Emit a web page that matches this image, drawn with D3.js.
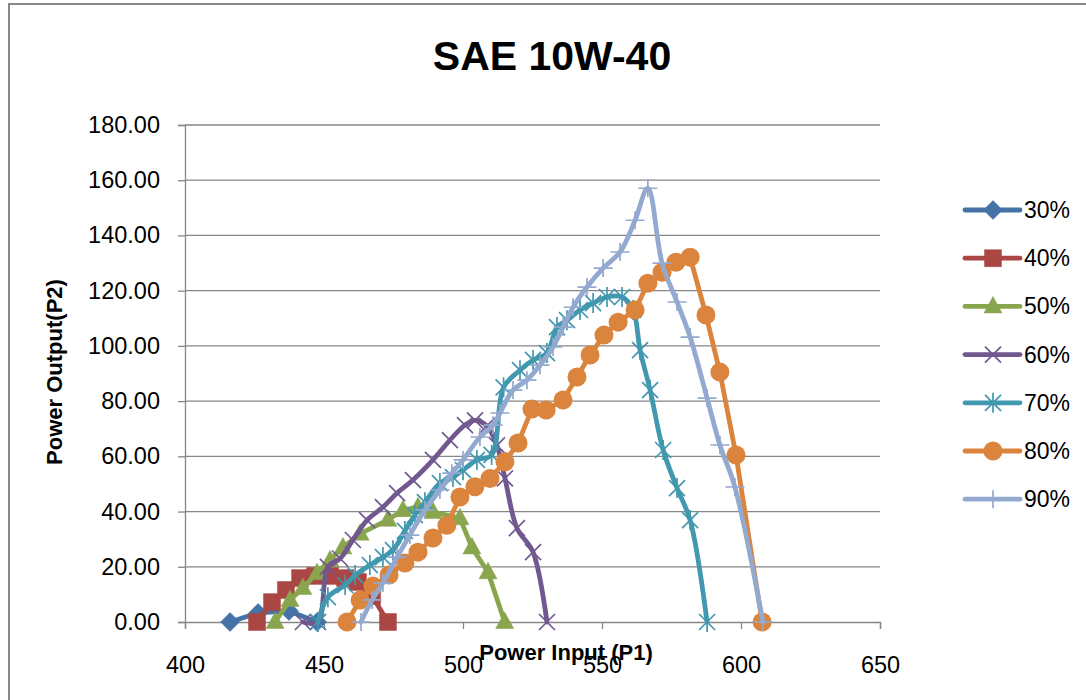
<!DOCTYPE html>
<html>
<head>
<meta charset="utf-8">
<script src="https://cdn.jsdelivr.net/npm/d3@7"></script>
<style>
  body { margin: 0; background: #fff; }
  text { font-family: "Liberation Sans", Arial, sans-serif; }
</style>
</head>
<body>
<div id="chart"></div>
<script>
// series values [Power Input P1, Power Output P2]
var s30 = [[416.2,0],[426.3,3.3],[437.4,4.0],[447.5,0]];
var s40 = [[425.9,0],[431.3,7.2],[436.3,11.6],[441.4,15.9],[446.8,16.7],[452.2,16.7],[457.6,15.9],[462.2,14.5],[467.3,9.4],[473,0]];
var s50 = [[432.4,0],[437.8,8],[442.4,12.3],[447.5,17.7],[452.2,22.4],[456.8,27],[463,32],[473,37],[478.4,40.5],[483.8,41.6],[489.2,39.8],[498.9,37.6],[503.2,27],[509,18],[515,0]];
var s60 = [[442.4,0],[447.8,0],[451.4,20],[455.8,23],[460.4,29.7],[465.5,36.9],[471.2,41.6],[476.3,46.7],[482,51.4],[489.2,58.7],[495.3,65.9],[500.7,71.3],[504.3,73],[508.6,71],[512.2,64],[515.1,52],[519.4,34],[525.2,25.3],[530.2,0]];
var s70 = [[447.8,0],[451.4,9],[457.6,13.4],[461.2,17],[466.5,20.6],[471.2,23.5],[474.8,26],[479.1,33],[482.7,38.7],[486.3,43.4],[491.7,50.3],[496.4,52.5],[500,55],[505,58.7],[510.3,60.5],[514.6,85],[520.5,91.2],[525.2,94.9],[530.2,97.4],[533.8,106.8],[537.4,109.3],[542.1,113],[546.8,115.5],[551.8,117.7],[557.2,117.7],[561.2,113],[563.7,98.5],[567.3,84],[572,62.3],[577,48.5],[581.7,36.9],[587.8,0]];
var s80 = [[458.3,0],[463,8],[467.6,13],[473.4,17],[479.1,21.4],[483.8,25.3],[489.2,30.4],[494.2,35],[498.9,45.3],[504.3,49],[509.7,52],[515.1,58],[519.8,64.8],[524.8,77.1],[529.9,76.8],[536,80.4],[541,88.7],[545.7,96.7],[550.7,103.9],[555.8,108.6],[561.9,113],[566.5,122.7],[571.6,126.7],[576.6,130.3],[581.7,132.1],[587.4,111.2],[592.4,90.5],[598.2,60.5],[607.6,0]];
var s90 = [[463.3,0],[467.3,8],[471.2,14.1],[476.3,23.5],[480.9,31.5],[486.3,40.6],[491.7,47.8],[496,53.9],[500,58.7],[506.1,67],[510.8,71.3],[513.3,75.7],[518,84],[523,87.6],[527.7,93],[532.4,99.6],[536,106.8],[539.6,114],[544.6,121.3],[550.4,128.2],[556.5,134],[561.9,145.5],[566.5,157.1],[571.6,130],[577,115.9],[581.7,103.2],[587.8,81.1],[592.4,64.1],[597.8,48.9],[607.9,0]];

var seriesNames = ["30%", "40%", "50%", "60%", "70%", "80%", "90%"];
var seriesData = [s30, s40, s50, s60, s70, s80, s90];
var seriesColors = ["#4572A7", "#AA4643", "#89A54E", "#71588F", "#4198AF", "#DB843D", "#93A9CF"];
var seriesMarkers = ["diamond", "square", "triangle", "x", "star", "circle", "plus"];
var seriesSmooth = [false, false, false, true, true, false, true];

var xTicks = [400, 450, 500, 550, 600, 650];
var yTicks = [0, 20, 40, 60, 80, 100, 120, 140, 160, 180];

// dimensions
var margin = {top: 125, right: 206, bottom: 78, left: 185},
    width = 1086 - margin.left - margin.right,
    height = 700 - margin.top - margin.bottom;

var root = d3.select("#chart")
  .append("svg")
    .attr("width", 1086)
    .attr("height", 700);

// outer chart border
root.append("rect")
  .attr("x", 9).attr("y", 4)
  .attr("width", 1100).attr("height", 720)
  .attr("fill", "none")
  .attr("stroke", "#868686")
  .attr("stroke-width", 2);

root.append("text")
  .attr("x", 552).attr("y", 70)
  .attr("text-anchor", "middle")
  .style("font-size", "41px")
  .style("font-weight", "bold")
  .text("SAE 10W-40");

var svg = root.append("g")
  .attr("transform", "translate(" + margin.left + "," + margin.top + ")");

var x = d3.scaleLinear().domain([400, 650]).range([0, width]);
var y = d3.scaleLinear().domain([0, 180]).range([height, 0]);

// gridlines
svg.append("g")
  .selectAll("line")
  .data(yTicks.slice(1))
  .enter().append("line")
    .attr("x1", 0).attr("x2", width)
    .attr("y1", function(d) { return y(d); })
    .attr("y2", function(d) { return y(d); })
    .attr("stroke", "#868686")
    .attr("stroke-width", 1.3);

var yAxis = svg.append("g")
  .call(d3.axisLeft(y).tickValues(yTicks).tickFormat(d3.format(".2f")).tickSize(7).tickPadding(18));
var xAxis = svg.append("g")
  .attr("transform", "translate(0," + height + ")")
  .call(d3.axisBottom(x).tickValues(xTicks).tickSize(7).tickPadding(27));

[yAxis, xAxis].forEach(function(a) {
  a.selectAll(".domain").attr("stroke", "#868686").attr("stroke-width", 1.3);
  a.selectAll(".tick line").attr("stroke", "#868686").attr("stroke-width", 1.3);
  a.selectAll("text")
    .style("font-size", "23.5px")
    .style("font-family", "'Liberation Sans', Arial, sans-serif")
    .attr("fill", "#000");
});

// axis titles
root.append("text")
  .attr("transform", "translate(62,372) rotate(-90)")
  .attr("text-anchor", "middle")
  .style("font-size", "22px")
  .style("font-weight", "bold")
  .text("Power Output(P2)");

root.append("text")
  .attr("x", 566).attr("y", 660)
  .attr("text-anchor", "middle")
  .style("font-size", "22px")
  .style("font-weight", "bold")
  .text("Power Input (P1)");

// marker drawing
function addMarker(g, type, color) {
  if (type === "circle") {
    g.append("circle").attr("r", 9.5).attr("fill", color);
    return;
  }
  var paths = {
    diamond: "M0,-9.5L9.5,0L0,9.5L-9.5,0Z",
    square: "M-8.5,-8.5H8.5V8.5H-8.5Z",
    triangle: "M0,-10L9,6.5L-9,6.5Z",
    x: "M-8,-8L8,8M-8,8L8,-8",
    star: "M-8,-8L8,8M-8,8L8,-8M0,-10V10",
    plus: "M-9.5,0H9.5M0,-9V9"
  };
  var filled = (type === "diamond" || type === "square" || type === "triangle");
  g.append("path")
    .attr("d", paths[type])
    .attr("fill", filled ? color : "none")
    .attr("stroke", color)
    .attr("stroke-width", filled ? 0.5 : 1.7);
}

// series: line then markers, later series on top
seriesData.forEach(function(data, i) {
  var line = d3.line()
    .x(function(d) { return x(d[0]); })
    .y(function(d) { return y(d[1]); })
    .curve(seriesSmooth[i] ? d3.curveCatmullRom.alpha(0.5) : d3.curveLinear);

  var sg = svg.append("g");
  sg.append("path")
    .datum(data)
    .attr("d", line)
    .attr("fill", "none")
    .attr("stroke", seriesColors[i])
    .attr("stroke-width", 4.8)
    .attr("stroke-linejoin", "round")
    .attr("stroke-linecap", "round");

  sg.selectAll("g.m")
    .data(data)
    .enter().append("g")
      .attr("class", "m")
      .attr("transform", function(d) { return "translate(" + x(d[0]) + "," + y(d[1]) + ")"; })
      .each(function() { addMarker(d3.select(this), seriesMarkers[i], seriesColors[i]); });
});

// legend
var legend = root.append("g")
  .selectAll("g")
  .data(seriesNames)
  .enter().append("g")
    .attr("transform", function(d, i) { return "translate(965," + (210 + i * 48.2) + ")"; });

legend.append("line")
  .attr("x1", 0).attr("x2", 55)
  .attr("stroke", function(d, i) { return seriesColors[i]; })
  .attr("stroke-width", 4.8)
  .attr("stroke-linecap", "round");

legend.append("g")
  .attr("transform", "translate(28,0)")
  .each(function(d, i) { addMarker(d3.select(this), seriesMarkers[i], seriesColors[i]); });

legend.append("text")
  .attr("x", 59)
  .attr("dy", "0.35em")
  .style("font-size", "23px")
  .text(function(d) { return d; });
</script>
</body>
</html>
